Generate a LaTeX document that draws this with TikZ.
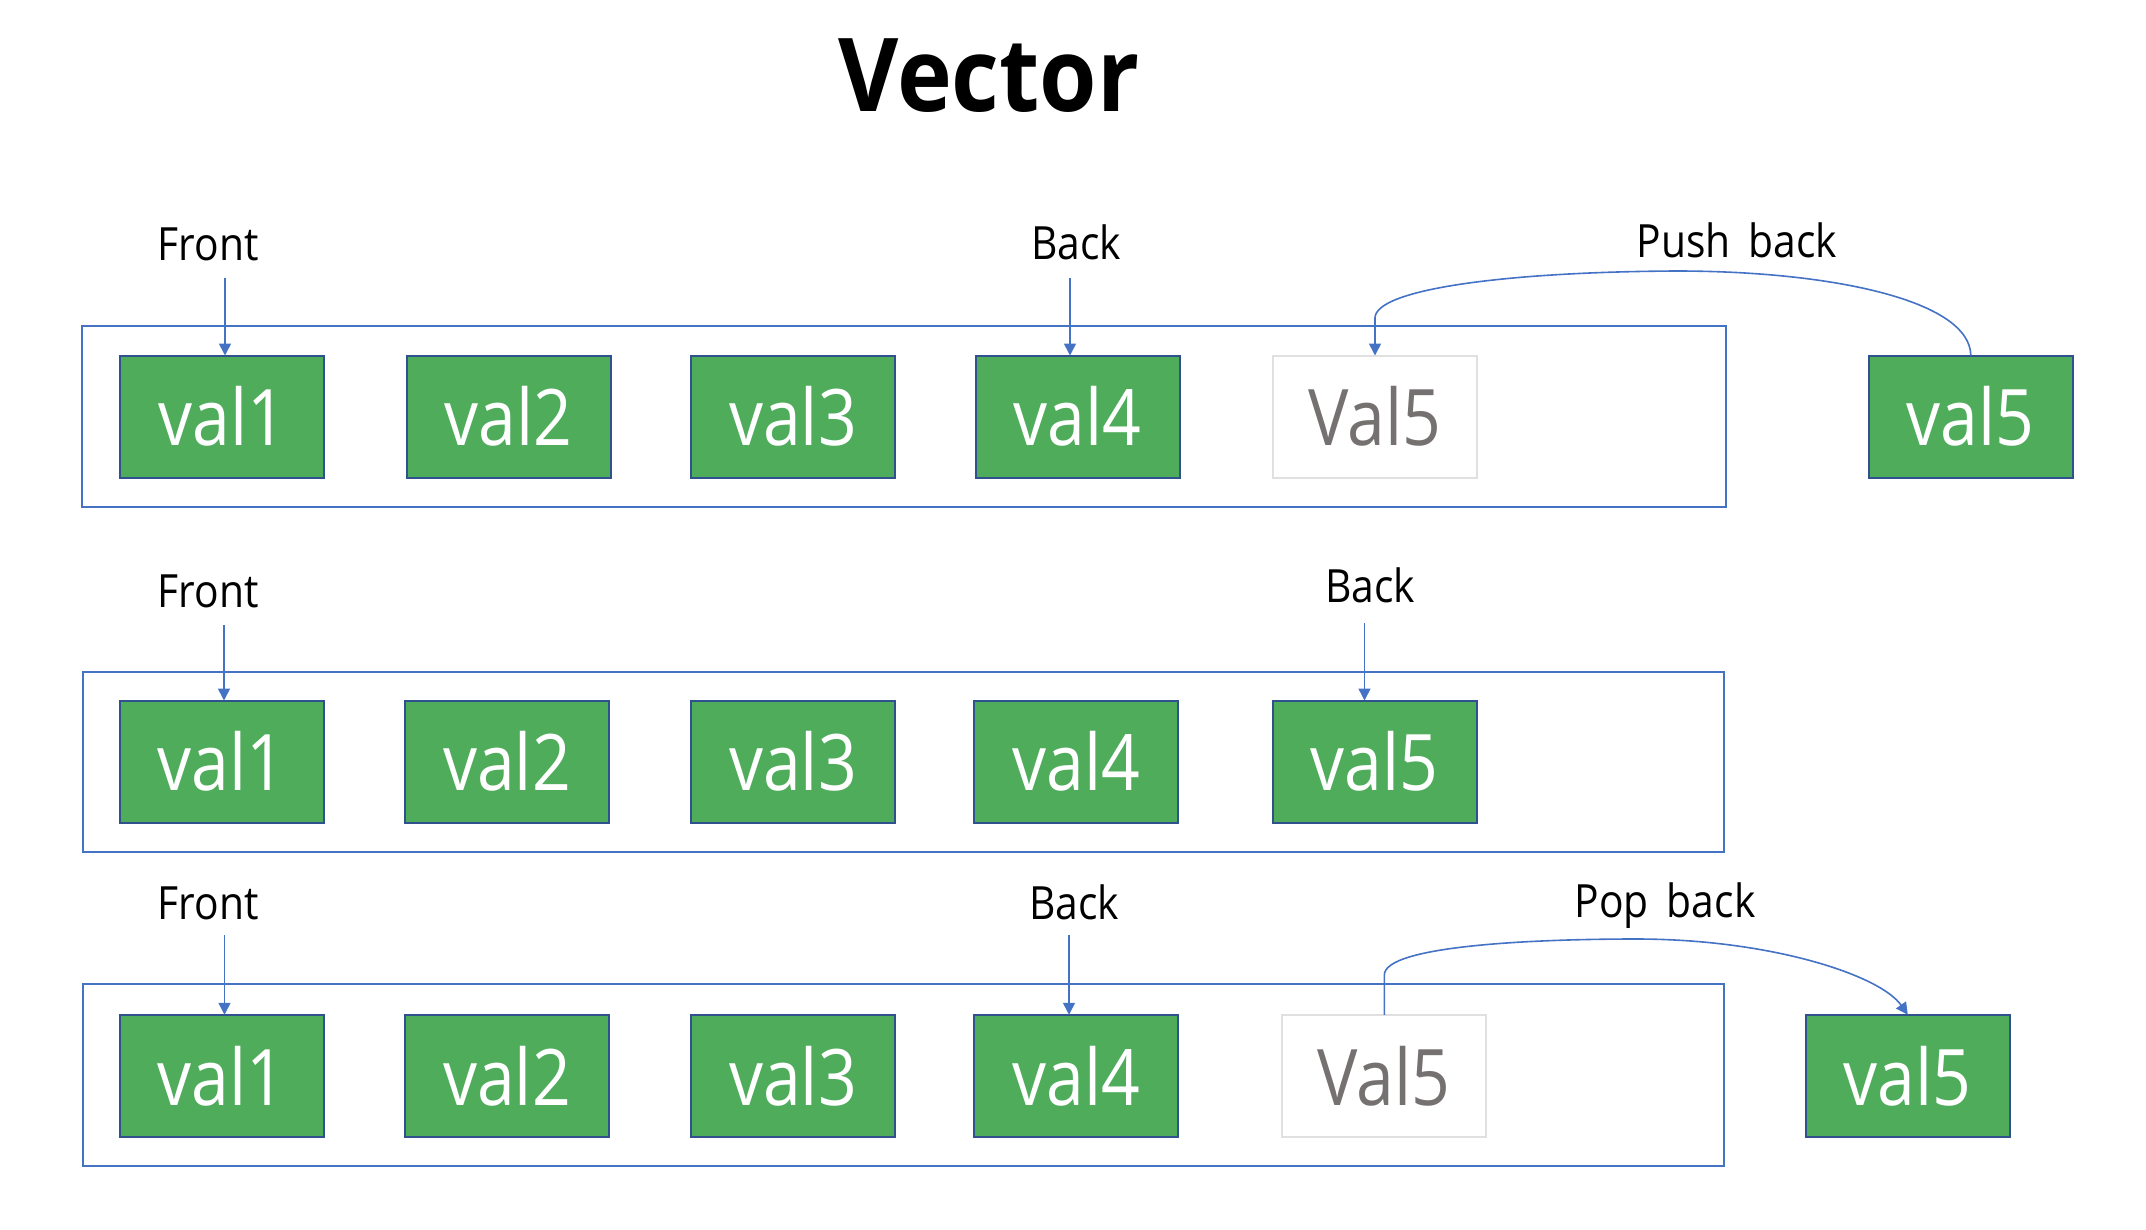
\documentclass[tikz,border=0pt]{standalone}
\usepackage{fontspec}
\setmainfont{Open Sans}
\newfontfamily\lblfont[FakeStretch=0.89]{Open Sans}
\newfontfamily\valfont[FakeStretch=0.87]{Open Sans}
\newfontfamily\ttlfont[FakeStretch=0.91]{Open Sans}
\usetikzlibrary{arrows.meta}
\definecolor{vgreen}{RGB}{78,172,91}
\definecolor{boxedge}{RGB}{47,82,143}
\definecolor{frameblue}{RGB}{68,114,196}
\definecolor{ghostedge}{RGB}{224,224,224}
\definecolor{ghosttext}{RGB}{118,113,113}
\tikzset{
  vbox/.style={draw=boxedge, fill=vgreen, line width=1pt, minimum width=102pt, minimum height=61pt, inner sep=0pt, outer sep=0pt, text=white, font=\valfont\fontsize{39}{40}\selectfont},
  ghostbox/.style={vbox, draw=ghostedge, fill=white, text=ghosttext},
  frame/.style={draw=frameblue, line width=1pt},
  lbl/.style={font=\lblfont\fontsize{22.9}{24}\selectfont, anchor=base, inner sep=0pt},
  arr/.style={draw=frameblue, line width=0.8pt, -{Triangle[length=6pt,width=6pt]}},
}
\begin{document}
\begin{tikzpicture}[x=0.5pt,y=-0.5pt]
\useasboundingbox (0,0) rectangle (2146,1230);
% title
\node[font=\ttlfont\bfseries\fontsize{51}{52}\selectfont, anchor=base, inner sep=0pt] (title) at (989,112) {Vector};
% frames
\draw[frame] (82,326) rectangle (1726,507);
\draw[frame] (83,672) rectangle (1724,852);
\draw[frame] (83,984) rectangle (1724,1166);
% row 1
\node[vbox] (a1) at (222.4,416.5) {val1};
\node[vbox] (a2) at (508.5,416.5) {val2};
\node[vbox] (a3) at (793,416.5) {val3};
\node[vbox] (a4) at (1077.8,416.5) {val4};
\node[ghostbox] (ag) at (1375,416.5) {Val5};
\node[vbox] (a5) at (1970.8,416.5) {val5};
\node[lbl] (af) at (208,261) {Front};
\node[lbl] (ab) at (1076,260) {Back};
\node[lbl] (ap) at (1737,257) {Push\, back};
\coordinate (afs) at (225,278);
\coordinate (abs) at (1070,278);
\draw[arr] (afs) -- (afs |- a1.north);
\draw[arr] (abs) -- (abs |- a4.north);
\draw[arr] (a5.north) .. controls (1970,300) and (1830,271) .. (1676,271)
  .. controls (1500,272) and (1375,290) .. (1375,318) -- (ag.north);
% row 2
\node[vbox] (b1) at (221.7,761.5) {val1};
\node[vbox] (b2) at (507,761.5) {val2};
\node[vbox] (b3) at (793,761.5) {val3};
\node[vbox] (b4) at (1076.4,761.5) {val4};
\node[vbox] (b5) at (1374.8,761.5) {val5};
\node[lbl] (bf) at (208,607) {Front};
\node[lbl] (bb) at (1370,602) {Back};
\coordinate (bfs) at (224,625);
\coordinate (bbs) at (1364.5,623);
\draw[arr] (bfs) -- (bfs |- b1.north);
\draw[arr] (bbs) -- (bbs |- b5.north);
% row 3
\node[vbox] (c1) at (221.7,1075.75) {val1};
\node[vbox] (c2) at (507,1075.75) {val2};
\node[vbox] (c3) at (793,1075.75) {val3};
\node[vbox] (c4) at (1076.4,1075.75) {val4};
\node[ghostbox] (cg) at (1384.3,1075.75) {Val5};
\node[vbox] (c5) at (1907.8,1075.75) {val5};
\node[lbl] (cf) at (208,919) {Front};
\node[lbl] (cb) at (1074,919) {Back};
\node[lbl] (cp) at (1665,917) {Pop\, back};
\coordinate (cfs) at (224.5,935);
\coordinate (cbs) at (1069,935);
\draw[arr] (cfs) -- (cfs |- c1.north);
\draw[arr] (cbs) -- (cbs |- c4.north);
\draw[arr] (cg.north) -- (1384.3,975) .. controls (1384.3,945) and (1540,939) .. (1636,939)
  .. controls (1770,939) and (1880,975) .. (c5.north);
\end{tikzpicture}
\end{document}
